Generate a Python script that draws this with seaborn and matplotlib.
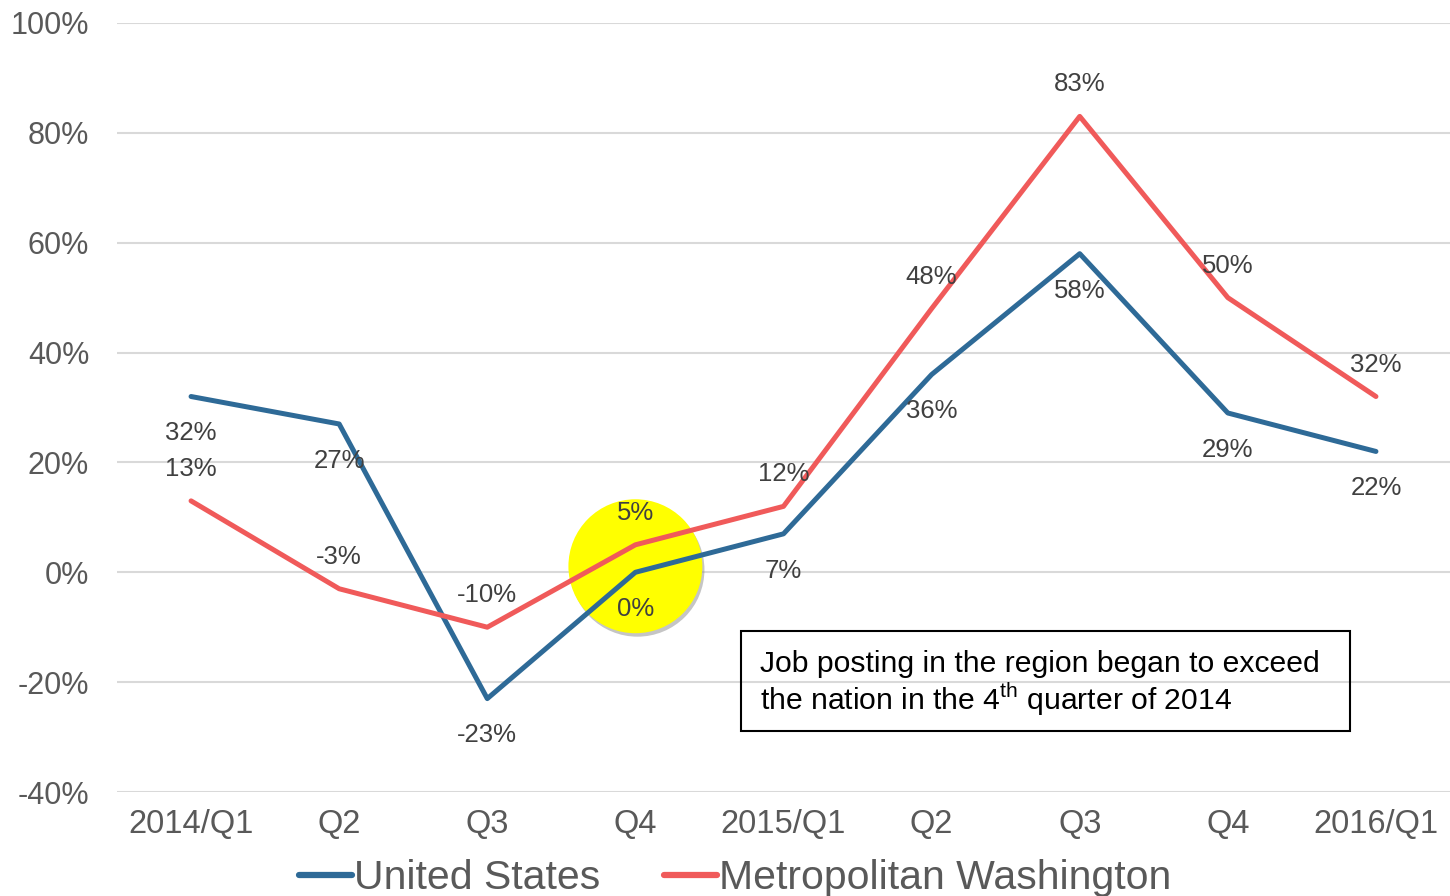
import pandas as pd
import matplotlib
matplotlib.use("Agg")
import matplotlib.pyplot as plt
import matplotlib.patheffects as pe
from matplotlib.patches import Rectangle
import seaborn as sns

quarters = ["2014/Q1", "Q2", "Q3", "Q4", "2015/Q1", "Q2", "Q3", "Q4", "2016/Q1"]
us = [32, 27, -23, 0, 7, 36, 58, 29, 22]
metro = [13, -3, -10, 5, 12, 48, 83, 50, 32]
series_names = ["United States", "Metropolitan Washington"]
yticks = [-40, -20, 0, 20, 40, 60, 80, 100]

blue = "#2E6A97"
red = "#F05A5A"

sns.set_theme(style="white")
plt.rcParams["font.family"] = ["Liberation Sans", "DejaVu Sans"]
plt.rcParams["mathtext.fontset"] = "custom"
plt.rcParams["mathtext.rm"] = "Liberation Sans"

df = pd.DataFrame({
    "idx": list(range(len(quarters))) * 2,
    "value": us + metro,
    "series": [series_names[0]] * len(us) + [series_names[1]] * len(metro),
})

fig = plt.figure(figsize=(14.5, 8.96), dpi=100)
ax = fig.add_axes([117 / 1450, 1 - 792 / 896, 1 - 117 / 1450, (792 - 23) / 896])

sns.lineplot(data=df, x="idx", y="value", hue="series",
             palette=[blue, red], linewidth=3.6, ax=ax, zorder=3, legend=True)

# yellow highlight circle at Q4 2014
ax.scatter([3], [1.1], s=9300, color="#FFFF00", zorder=2, linewidths=0,
           path_effects=[pe.SimplePatchShadow(offset=(1.5, -2.5), shadow_rgbFace="#8C8C8C", alpha=0.5),
                         pe.Normal()])

for i, v in enumerate(us):
    ax.annotate(f"{v}%", (i, v), xytext=(0, -26.5), textcoords="offset points",
                ha="center", va="center", fontsize=18.5, color="#404040", zorder=4)
for i, v in enumerate(metro):
    ax.annotate(f"{v}%", (i, v), xytext=(0, 23), textcoords="offset points",
                ha="center", va="center", fontsize=18.5, color="#404040", zorder=4)

ax.set_xlim(-0.5, len(quarters) - 0.5)
ax.set_ylim(-40, 100)
ax.set_yticks(yticks)
ax.set_yticklabels([f"{t}%" for t in yticks])
ax.set_xticks(range(len(quarters)))
ax.set_xticklabels(quarters)
ax.tick_params(axis="y", labelsize=22, colors="#595959", length=0, pad=20)
ax.tick_params(axis="x", labelsize=23.5, colors="#595959", length=0, pad=12)
ax.grid(axis="y", color="#D9D9D9", linewidth=1.5, zorder=0)
ax.set_axisbelow(True)
for s in ax.spines.values():
    s.set_visible(False)
ax.set_xlabel("")
ax.set_ylabel("")

handles, labels = ax.get_legend_handles_labels()
ax.legend_.remove()
for h in handles:
    h.set_linewidth(4.5)
    h.set_solid_capstyle("round")
fig.legend(handles, labels, loc="center", bbox_to_anchor=(735 / 1450, 1 - 878 / 896),
           ncol=2, frameon=False, handlelength=1.3, handletextpad=0.05, columnspacing=1.55,
           prop={"size": 29.5}, labelcolor="#595959")

# annotation box
fig.patches.append(Rectangle((741 / 1450, 1 - 731 / 896), 609 / 1450, 100 / 896,
                             transform=fig.transFigure, fill=False, edgecolor="black",
                             linewidth=1.5))
fig.text(760 / 1450, 1 - 684 / 896,
         "Job posting in the region began to exceed\nthe nation in the 4$^{\\mathrm{th}}$ quarter of 2014",
         ha="left", va="center", fontsize=21.7, linespacing=1.1, color="black")

fig.savefig("out.png", dpi=100)
